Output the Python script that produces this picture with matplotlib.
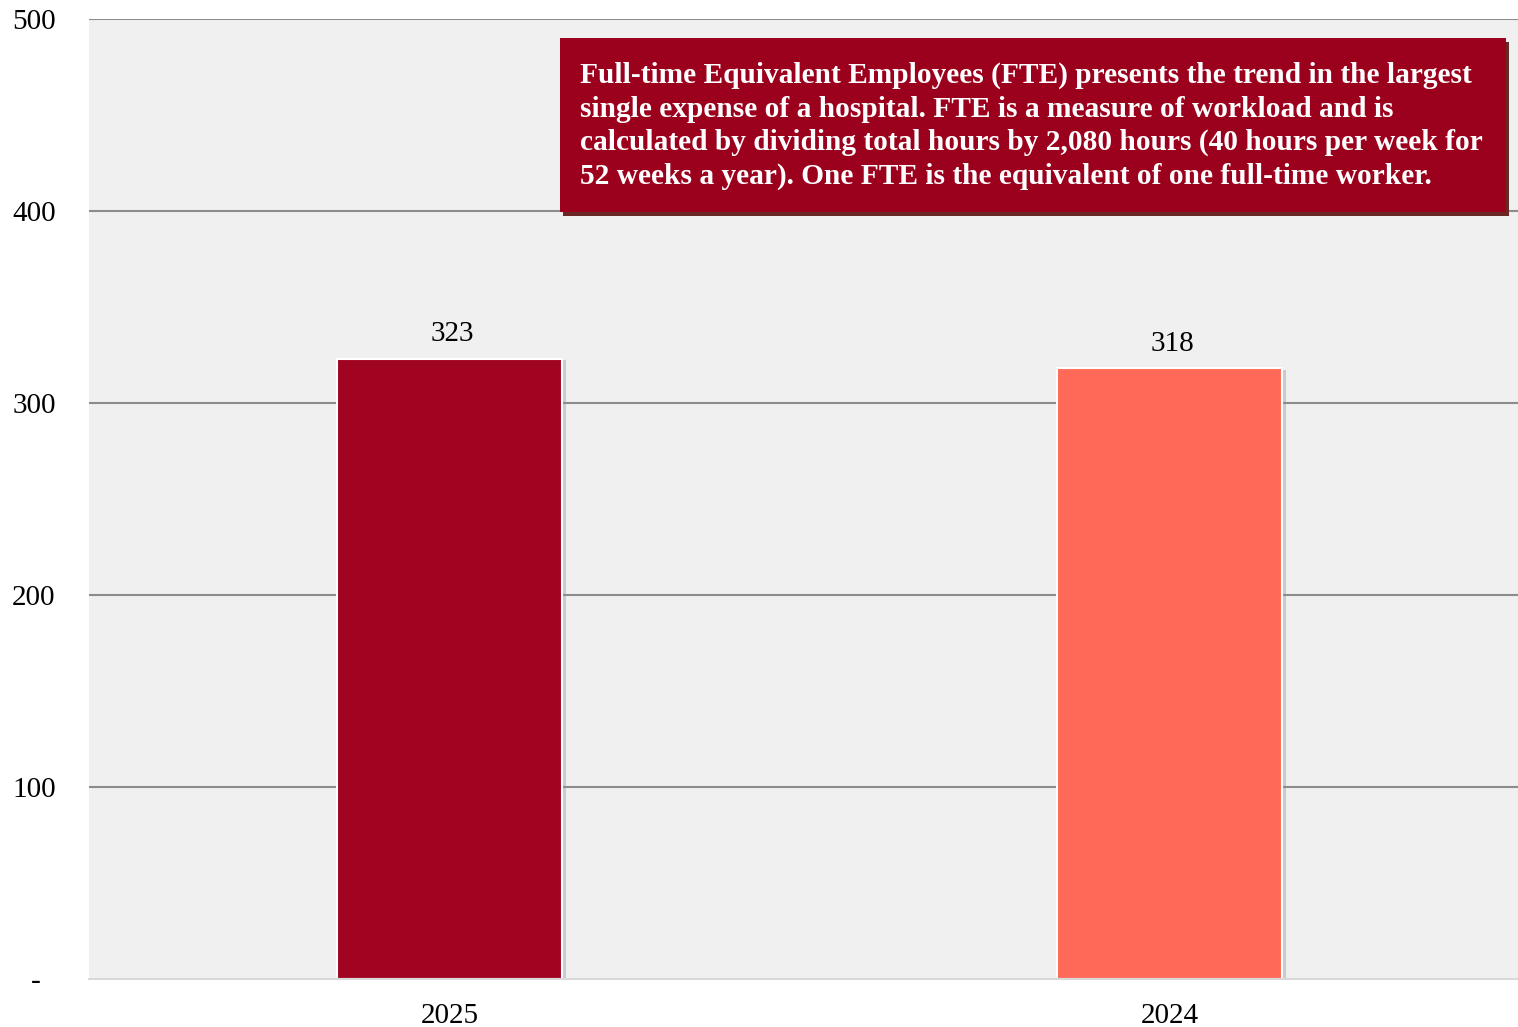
import matplotlib.pyplot as plt
import matplotlib.patheffects as pe
from matplotlib.patches import Rectangle

YEARS = ['2025', '2024']
FTE = [323, 318]
BAR_COLORS = ['#a10420', '#ff6a58']
Y_TICKS = [0, 100, 200, 300, 400, 500]
Y_LABELS = ['-  ', '100', '200', '300', '400', '500']
NOTE = ('Full-time Equivalent Employees (FTE) presents the trend in the largest\n'
        'single expense of a hospital. FTE is a measure of workload and is\n'
        'calculated by dividing total hours by 2,080 hours (40 hours per week for\n'
        '52 weeks a year). One FTE is the equivalent of one full-time worker.')

W, H = 1518, 1027
plt.rcParams['font.family'] = ['Liberation Serif', 'DejaVu Serif']

fig = plt.figure(figsize=(W / 100, H / 100), dpi=100)
ax = fig.add_axes([89 / W, 48 / H, (W - 89) / W, 960 / H])
ax.set_facecolor('#f0f0f0')

x = range(len(YEARS))
bars = ax.bar(x, FTE, width=0.3125, color=BAR_COLORS, edgecolor='white',
              linewidth=1.5, zorder=3)
for b in bars:
    b.set_path_effects([pe.SimplePatchShadow(offset=(3, -1), shadow_rgbFace='#888888',
                                             alpha=0.35), pe.Normal()])
for xi, v in zip(x, FTE):
    ax.annotate(f'{v}', (xi, v), xytext=(2, 8.5), textcoords='offset points',
                ha='center', va='bottom', fontsize=21)

ax.set_xlim(-0.5007, 1.484)
ax.set_ylim(0, 500)
ax.set_yticks(Y_TICKS)
ax.set_yticklabels(Y_LABELS)
ax.yaxis.grid(True, color='#8c8c8c', linewidth=1.5, zorder=0)
ax.set_axisbelow(True)
ax.set_xticks(list(x))
ax.set_xticklabels(YEARS)
ax.tick_params(axis='both', length=0, labelsize=21)
ax.tick_params(axis='y', pad=24)
ax.tick_params(axis='x', pad=17)
for s in ['top', 'right', 'left']:
    ax.spines[s].set_visible(False)
ax.spines['bottom'].set_color('#d9d9d9')
ax.spines['bottom'].set_linewidth(1.5)
ax.spines['bottom'].set_zorder(4)
# the 0 gridline should be light like the spine
ax.get_ygridlines()[0].set_visible(False)

# note box with a dark shadow
fig.patches.append(Rectangle((563 / W, 1 - 216 / H), 946 / W, 174 / H,
                             transform=fig.transFigure, facecolor='#6b2626',
                             edgecolor='none', zorder=5))
fig.patches.append(Rectangle((560 / W, 1 - 212 / H), 946 / W, 174 / H,
                             transform=fig.transFigure, facecolor='#9b001c',
                             edgecolor='none', zorder=6))
fig.text(580 / W, 1 - 62 / H, NOTE, color='white', fontsize=21.2, fontweight='bold',
         ha='left', va='top', linespacing=1.3, zorder=7)

fig.savefig('out.png', dpi=100)
